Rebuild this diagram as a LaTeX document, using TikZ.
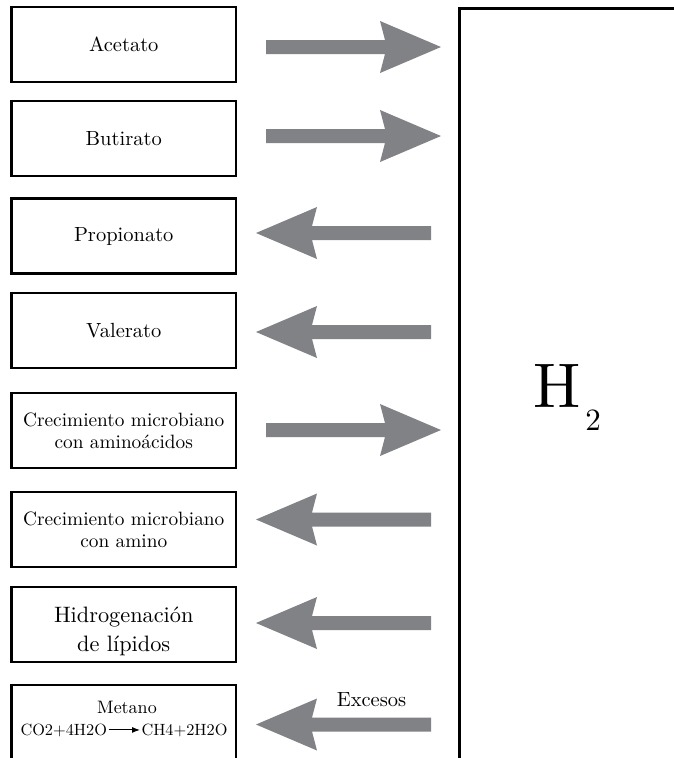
\documentclass[tikz,border=0pt]{standalone}
\usepackage{fontspec}
\setmainfont{lmroman10-regular.otf}
\usetikzlibrary{calc,arrows.meta}
\definecolor{arrowgray}{HTML}{808285}
\tikzset{
  procbox/.style={draw=black, line width=2.4pt, minimum width=224.5pt,
    minimum height=75pt, inner sep=0pt, align=center},
  sizeA/.style={font=\fontsize{20.5}{25}\selectfont},
  sizeB/.style={font=\fontsize{19.3}{22}\selectfont},
  sizeC/.style={font=\fontsize{22.3}{29}\selectfont},
  formula/.style={font=\fontsize{16.3}{19}\selectfont, inner sep=0pt, outer sep=1.5pt},
}
% wide grey block arrow from #1 (tail) to #2 (tip), horizontal
\newcommand\blockarrow[2]{%
  \fill[arrowgray] let \p1=(#1), \p2=(#2), \n1={ifthenelse(\x2>\x1,1,-1)} in
    (\x1,\y1+7pt) -- ({\x2-(\n1)*56pt},\y1+7pt) -- ({\x2-(\n1)*61pt},\y1+26pt)
    -- (\x2,\y2) -- ({\x2-(\n1)*61pt},\y1-26pt) -- ({\x2-(\n1)*56pt},\y1-7pt)
    -- (\x1,\y1-7pt) -- cycle;}
\begin{document}
\begin{tikzpicture}[x=1pt,y=-1pt]
\clip (0,0) rectangle (674,758);
\fill[white] (0,0) rectangle (674,758);

% process boxes on the left
\node[procbox, sizeA] (b1) at (123.75,44.5) {Acetato};
\node[procbox, sizeA] (b2) at (123.75,138.75) {Butirato};
\node[procbox, sizeA] (b3) at (123.75,236) {Propionato};
\node[procbox, sizeA] (b4) at (123.75,330.5) {Valerato};
\node[procbox, sizeB] (b5) at (123.75,430.5) {Crecimiento microbiano\\con aminoácidos};
\node[procbox, sizeB] (b6) at (123.75,529.5) {Crecimiento microbiano\\con amino};
\node[procbox] (b7) at (123.75,624.5) {};
\node[sizeC, align=center, inner sep=0pt] (t7) at ([yshift=-7pt]b7.center) {Hidrogenación\\de lípidos};
\node[procbox] (b8) at (123.75,722.5) {};
\node[anchor=base, font=\fontsize{18}{21}\selectfont, inner sep=0pt] (m) at (127,713) {Metano};
\node[formula, anchor=base east] (f1) at (108.5,735) {CO2+4H2O};
\node[formula, anchor=base west] (f2) at (140,735) {CH4+2H2O};
\draw[line width=1pt, -{Latex[length=8pt,width=6pt]}] (f1.east) -- (f2.west);

% hydrogen pool
\node[draw=black, line width=2.6pt, anchor=north west, minimum width=320pt,
  minimum height=752pt, inner sep=0pt] (h) at (458,7) {};
\node[anchor=base west, inner sep=0pt] (h2) at (533,407)
  {\fontsize{63}{70}\selectfont H\kern5pt\raisebox{-23pt}{\fontsize{31}{34}\selectfont 2}};

% arrow end points
\coordinate (a1s) at (266,47);   \coordinate (a1e) at (441,47);
\coordinate (a2s) at (266,136);  \coordinate (a2e) at (441,136);
\coordinate (a3s) at (431,233);  \coordinate (a3e) at (256,233);
\coordinate (a4s) at (431,332);  \coordinate (a4e) at (256,332);
\coordinate (a5s) at (266,430);  \coordinate (a5e) at (441,430);
\coordinate (a6s) at (431,519.5);\coordinate (a6e) at (256,519.5);
\coordinate (a7s) at (431,623);  \coordinate (a7e) at (256,623);
\coordinate (a8s) at (431,724.5);\coordinate (a8e) at (256,724.5);

\blockarrow{a1s}{a1e}
\blockarrow{a2s}{a2e}
\blockarrow{a3s}{a3e}
\blockarrow{a4s}{a4e}
\blockarrow{a5s}{a5e}
\blockarrow{a6s}{a6e}
\blockarrow{a7s}{a7e}
\blockarrow{a8s}{a8e}

\node[anchor=base, font=\fontsize{20.5}{24}\selectfont, inner sep=0pt] (ex) at (371.5,706) {Excesos};
\end{tikzpicture}
\end{document}
